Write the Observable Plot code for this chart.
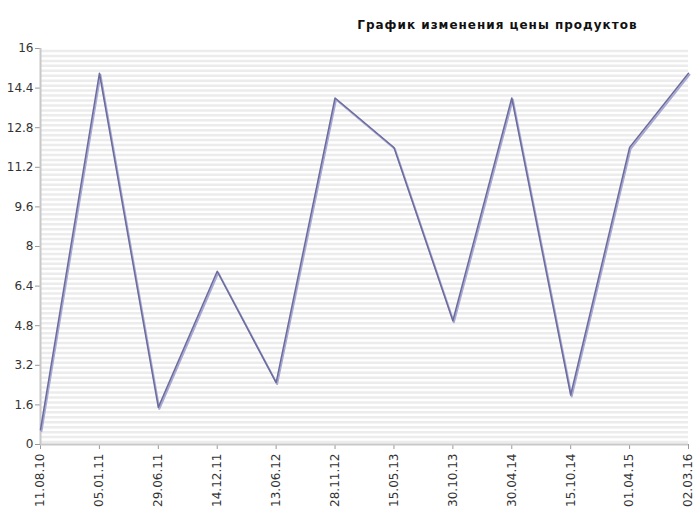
<!DOCTYPE html>
<html>
<head>
<meta charset="utf-8">
<script src="https://cdn.jsdelivr.net/npm/d3@7"></script>
<script src="https://cdn.jsdelivr.net/npm/@observablehq/plot@0.6"></script>
<style>
body { margin: 0; background: #fff; }
</style>
</head>
<body>
<div id="chart"></div>
<script>
const dates = ["11.08.10","05.01.11","29.06.11","14.12.11","13.06.12","28.11.12","15.05.13","30.10.13","30.04.14","15.10.14","01.04.15","02.03.16"];
const prices = [0.6, 15.0, 1.5, 7.0, 2.5, 14.0, 12.0, 5.0, 14.0, 2.0, 12.0, 15.0];
const yTicks = [0, 1.6, 3.2, 4.8, 6.4, 8, 9.6, 11.2, 12.8, 14.4, 16];
const stripeValues = d3.range(0, 80).map(i => +(i * 0.2).toFixed(1));
const title = "График изменения цены продуктов";

const data = dates.map((d, i) => ({date: d, price: prices[i]}));

const chart = Plot.plot({
  width: 697,
  height: 517,
  marginLeft: 40,
  marginRight: 9,
  marginTop: 48,
  marginBottom: 73,
  style: {fontFamily: "DejaVu Sans", fontSize: "12px", color: "#333", background: "#fff"},
  x: {type: "point", domain: dates, padding: 0, round: false, label: null},
  y: {domain: [0, 16], label: null},
  marks: [
    Plot.ruleY(stripeValues, {y: d => d + 0.1, stroke: "#ececec", strokeWidth: 2.5}),
    Plot.axisY({ticks: yTicks, tickFormat: d => String(+d.toFixed(1)), tickSize: 5, tickPadding: 2, stroke: "#999", fontSize: 12, fill: "#333"}),
    Plot.axisX({tickRotate: -90, tickSize: 5, tickPadding: 4, stroke: "#999", fontSize: 12, fill: "#333"}),
    Plot.ruleX([dates[0]], {x: d => d, stroke: "#c8c8c8", strokeWidth: 2}),
    Plot.ruleY([0], {stroke: "#c8c8c8", strokeWidth: 2}),
    Plot.line(data, {x: "date", y: "price", stroke: "#a8a8d4", strokeWidth: 2, dx: 1, dy: 1.5}),
    Plot.line(data, {x: "date", y: "price", stroke: "#6c6c9c", strokeWidth: 1.5}),
    Plot.text([title], {frameAnchor: "top-right", dx: -51, dy: -28, text: d => d, fontWeight: "bold", fontSize: 12, fill: "#111", textAnchor: "end"})
  ]
});
d3.select(chart).selectAll("text").filter(function() { return this.textContent === title; })
  .attr("letter-spacing", "1px");
document.getElementById("chart").appendChild(chart);
</script>
</body>
</html>
